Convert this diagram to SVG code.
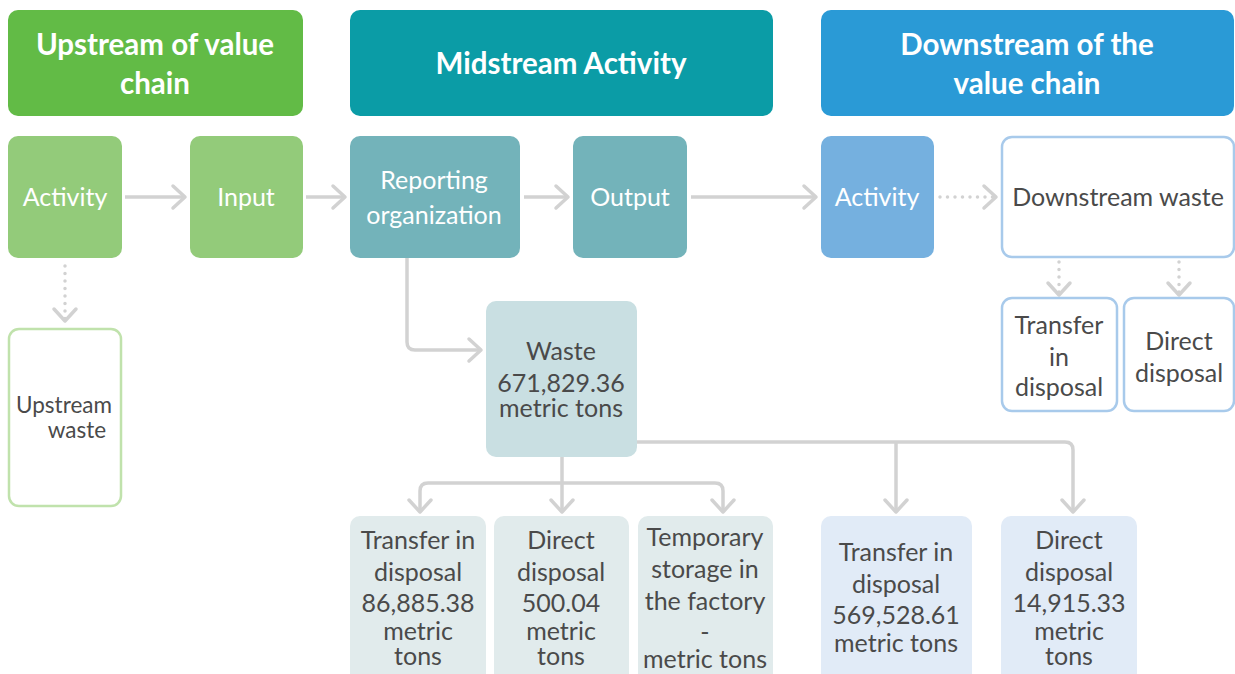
<svg xmlns="http://www.w3.org/2000/svg" width="1235" height="674" viewBox="0 0 1235 674">
<style>
text{font-family:Lato,"Liberation Sans",sans-serif;text-anchor:middle}
.h{font-size:29.5px;font-weight:bold;fill:#fff}
.w{font-size:25px;fill:#fff}
.d{font-size:25px;fill:#4a4a4a}
.t{font-size:24px;fill:#4a4a4a}
.s{font-size:22.5px;fill:#4a4a4a}
.c{fill:none;stroke:#d2d2d2;stroke-width:3.5;stroke-linejoin:round}
.dot{fill:none;stroke:#d2d2d2;stroke-width:3.5;stroke-linecap:round;stroke-dasharray:0 7.5}
</style>
<defs>
<marker id="ar" markerUnits="userSpaceOnUse" markerWidth="30" markerHeight="30" viewBox="-16 -15 20 30" refX="0" refY="0" orient="auto">
<path d="M-12,-11 L0,0 L-12,11" fill="none" stroke="#d2d2d2" stroke-width="3.5" stroke-linecap="round" stroke-linejoin="round"/>
</marker>
</defs>
<g id="connectors">
<path class="c" d="M125,197 H185" marker-end="url(#ar)"/>
<path class="c" d="M306,197 H345" marker-end="url(#ar)"/>
<path class="c" d="M524,197 H568" marker-end="url(#ar)"/>
<path class="c" d="M691,197 H816" marker-end="url(#ar)"/>
<path class="dot" d="M940,197 H996" marker-end="url(#ar)"/>
<path class="dot" d="M65,266 V321" marker-end="url(#ar)"/>
<path class="dot" d="M1059,262 V295" marker-end="url(#ar)"/>
<path class="dot" d="M1179,262 V295" marker-end="url(#ar)"/>
<path class="c" d="M407,258 V342 Q407,350 415,350 H481" marker-end="url(#ar)"/>
<path class="c" d="M562,457 V512" marker-end="url(#ar)"/>
<path class="c" d="M562,483 H428 Q420,483 420,491 V512" marker-end="url(#ar)"/>
<path class="c" d="M562,483 H715 Q723,483 723,491 V512" marker-end="url(#ar)"/>
<path class="c" d="M637,442 H1065 Q1073,442 1073,450 V512" marker-end="url(#ar)"/>
<path class="c" d="M896,442 V512" marker-end="url(#ar)"/>
</g>
<g id="hdr-upstream"><rect x="8" y="10" width="295" height="106" rx="10" fill="#62bb46"/><text class="h" x="155" y="55">Upstream of value</text><text class="h" x="155" y="94">chain</text></g>
<g id="hdr-midstream"><rect x="350" y="10" width="423" height="106" rx="10" fill="#0b9ca6"/><text class="h" x="561" y="74">Midstream Activity</text></g>
<g id="hdr-downstream"><rect x="821" y="10" width="413" height="106" rx="10" fill="#2a9ad6"/><text class="h" x="1027" y="55">Downstream of the</text><text class="h" x="1027" y="94">value chain</text></g>
<g id="up-activity"><rect x="8" y="136" width="114" height="122" rx="10" fill="#93cb7a"/><text class="w" x="65" y="206">Activity</text></g>
<g id="input"><rect x="190" y="136" width="113" height="122" rx="10" fill="#93cb7a"/><text class="w" x="246" y="206">Input</text></g>
<g id="reporting"><rect x="350" y="136" width="170" height="122" rx="10" fill="#73b3ba"/><text class="w" x="434" y="189">Reporting</text><text class="w" x="434" y="224">organization</text></g>
<g id="output"><rect x="573" y="136" width="114" height="122" rx="10" fill="#73b3ba"/><text class="w" x="630" y="206">Output</text></g>
<g id="down-activity"><rect x="821" y="136" width="113" height="122" rx="10" fill="#75b0df"/><text class="w" x="877" y="206">Activity</text></g>
<g id="downstream-waste"><rect x="1002" y="137" width="232" height="120" rx="10" fill="#fff" stroke="#a8caeb" stroke-width="2.5"/><text class="d" x="1118" y="206">Downstream waste</text></g>
<g id="upstream-waste"><rect x="9" y="329" width="112" height="177" rx="10" fill="#fff" stroke="#c0e2ac" stroke-width="2.5"/><text class="s" x="64" y="413">Upstream</text><text class="s" x="77" y="438">waste</text></g>
<g id="ds-transfer"><rect x="1002" y="298" width="115" height="113" rx="10" fill="#fff" stroke="#a8caeb" stroke-width="2.5"/><text class="d" x="1059" y="334">Transfer</text><text class="d" x="1059" y="366">in</text><text class="d" x="1059" y="396">disposal</text></g>
<g id="ds-direct"><rect x="1124" y="298" width="110" height="113" rx="10" fill="#fff" stroke="#a8caeb" stroke-width="2.5"/><text class="d" x="1179" y="350">Direct</text><text class="d" x="1179" y="382">disposal</text></g>
<g id="waste"><rect x="486" y="301" width="151" height="156" rx="10" fill="#c9dfe2"/><text class="d" x="561" y="360">Waste</text><text class="d" x="561" y="392">671,829.36</text><text class="d" x="561" y="417">metric tons</text></g>
<g id="mid-transfer"><rect x="350" y="516" width="136" height="175" rx="10" fill="#e1ebec"/><text class="d" x="418" y="549">Transfer in</text><text class="d" x="418" y="581">disposal</text><text class="d" x="418" y="612">86,885.38</text><text class="d" x="418" y="640">metric</text><text class="d" x="418" y="665">tons</text></g>
<g id="mid-direct"><rect x="494" y="516" width="135" height="175" rx="10" fill="#e1ebec"/><text class="d" x="561" y="549">Direct</text><text class="d" x="561" y="581">disposal</text><text class="d" x="561" y="612">500.04</text><text class="d" x="561" y="640">metric</text><text class="d" x="561" y="665">tons</text></g>
<g id="mid-temporary"><rect x="638" y="516" width="135" height="175" rx="10" fill="#e1ebec"/><text class="d" x="705" y="546">Temporary</text><text class="d" x="705" y="578">storage in</text><text class="d" x="705" y="610">the factory</text><text class="d" x="705" y="641">-</text><text class="d" x="705" y="668">metric tons</text></g>
<g id="dn-transfer"><rect x="821" y="516" width="151" height="175" rx="10" fill="#e1ebf7"/><text class="d" x="896" y="561">Transfer in</text><text class="d" x="896" y="593">disposal</text><text class="d" x="896" y="624">569,528.61</text><text class="d" x="896" y="652">metric tons</text></g>
<g id="dn-direct"><rect x="1001" y="516" width="136" height="175" rx="10" fill="#e1ebf7"/><text class="d" x="1069" y="549">Direct</text><text class="d" x="1069" y="581">disposal</text><text class="d" x="1069" y="612">14,915.33</text><text class="d" x="1069" y="640">metric</text><text class="d" x="1069" y="665">tons</text></g>
</svg>
